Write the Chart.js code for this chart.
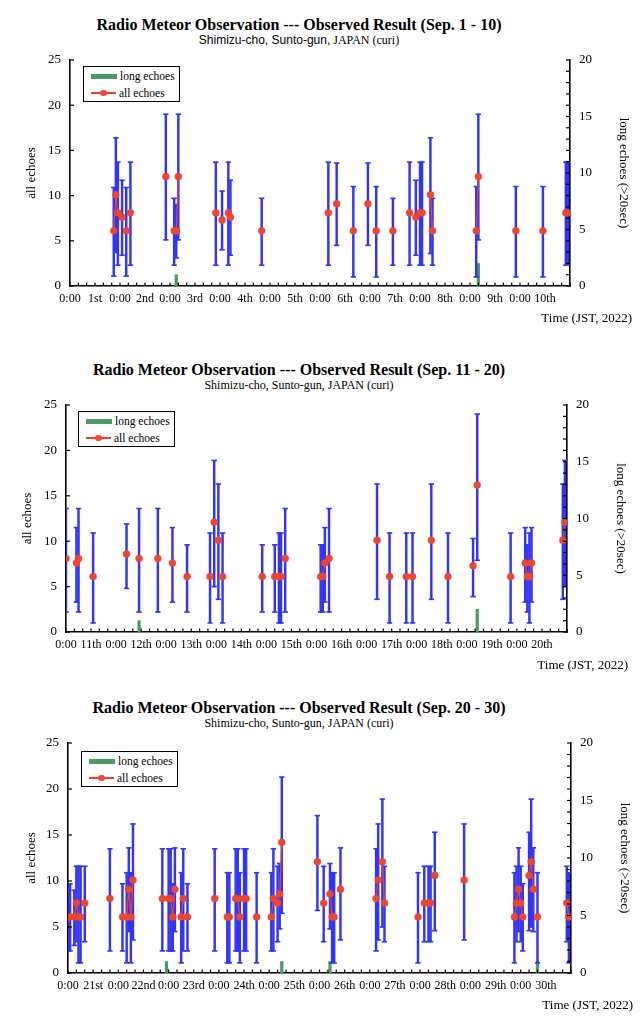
<!DOCTYPE html>
<html>
<head>
<meta charset="utf-8">
<script src="https://cdn.jsdelivr.net/npm/chart.js@4.4.1/dist/chart.umd.min.js"></script>
<style>
  body { margin: 0; width: 644px; height: 1024px; background: #fff; position: relative; overflow: hidden;
         font-family: "Liberation Serif", serif; color: #000; }
  .panel { position: absolute; left: 0; width: 644px; height: 340px; }
  .panel canvas { position: absolute; left: 0; top: 0; }
  .ttl { position: absolute; left: 0; width: 598px; top: 16px; text-align: center; font-weight: bold; font-size: 16px; line-height: 18px; }
  .sub { position: absolute; left: 0; width: 598px; top: 33px; text-align: center; font-size: 12px; line-height: 14px; }
  .sans { font-family: "Liberation Sans", sans-serif; }
  .time { position: absolute; right: 12px; font-size: 13px; line-height: 15px; }
  .legend { position: absolute; width: 97px; height: 36px; border: 1.5px solid #000; box-sizing: border-box; background: #fff; font-size: 11.5px; }
  .legend .row { position: absolute; left: 7px; height: 14px; display: flex; align-items: center; white-space: nowrap; }
  .sw-bar { display: inline-block; width: 26px; height: 5px; background: #4f9a64; margin-right: 3px; }
  .sw-line { display: inline-block; position: relative; width: 25px; height: 1.5px; background: #e8402a; margin-right: 3px; }
  .sw-line i { position: absolute; left: 9px; top: -2.5px; width: 6.5px; height: 6.5px; border-radius: 50%; background: #f04a34; }
</style>
</head>
<body>

<div class="panel" style="top:0px">
  <div class="ttl">Radio Meteor Observation --- Observed Result (Sep. 1 - 10)</div>
  <div class="sub"><span class="sans">Shimizu-cho, Sunto-gun,</span> JAPAN (curi)</div>
  <canvas id="c1" width="644" height="316"></canvas>
  <div class="legend" style="left:83px;top:66px">
    <div class="row" style="top:2px"><span class="sw-bar"></span>long echoes</div>
    <div class="row" style="top:19px"><span class="sw-line"><i></i></span>all echoes</div>
  </div>
  <div class="time" style="top:310px">Time (JST, 2022)</div>
</div>

<div class="panel" style="top:345px">
  <div class="ttl">Radio Meteor Observation --- Observed Result (Sep. 11 - 20)</div>
  <div class="sub">Shimizu-cho, Sunto-gun, JAPAN (curi)</div>
  <canvas id="c2" width="644" height="317"></canvas>
  <div class="legend" style="left:78px;top:66px">
    <div class="row" style="top:2px"><span class="sw-bar"></span>long echoes</div>
    <div class="row" style="top:19px"><span class="sw-line"><i></i></span>all echoes</div>
  </div>
  <div class="time" style="top:312px;right:16px">Time (JST, 2022)</div>
</div>

<div class="panel" style="top:683px">
  <div class="ttl">Radio Meteor Observation --- Observed Result (Sep. 20 - 30)</div>
  <div class="sub">Shimizu-cho, Sunto-gun, JAPAN (curi)</div>
  <canvas id="c3" width="644" height="320"></canvas>
  <div class="legend" style="left:81px;top:68px">
    <div class="row" style="top:2px"><span class="sw-bar"></span>long echoes</div>
    <div class="row" style="top:19px"><span class="sw-line"><i></i></span>all echoes</div>
  </div>
  <div class="time" style="top:314px;right:11px">Time (JST, 2022)</div>
</div>

<script>
// ---- chart 1 : Sep. 1 - 10 (hours counted from Sep. 1 0:00) ----
const dayLabels1 = ['1st', '2nd', '3rd', '4th', '5th', '6th', '7th', '8th', '9th', '10th'];
const allHours1  = [21, 22, 23, 25, 27, 29, 46, 50, 51, 52, 70, 73, 76, 77, 92, 124, 128, 136, 143, 147, 155, 163, 166, 168, 169, 173, 174, 195, 196, 214, 227, 238, 239];
const allValues1 = [6.1, 10.1, 8.1, 7.6, 6.1, 8.1, 12.1, 6.1, 6.1, 12.1, 8.1, 7.3, 8.1, 7.6, 6.1, 8.1, 9.1, 6.1, 9.1, 6.1, 6.1, 8.1, 7.6, 8.1, 8.1, 10.1, 6.1, 6.1, 12.1, 6.1, 6.1, 8.1, 8.1];
const errLow1    = [1.1, 3.7, 2.3, 3.4, 1.1, 2.3, 5.1, 2.3, 3.1, 5.1, 2.3, 4.0, 2.3, 3.4, 2.3, 2.3, 4.5, 1.0, 4.5, 1.0, 2.3, 2.3, 3.4, 2.3, 2.3, 3.6, 2.3, 1.0, 5.1, 1.0, 1.0, 2.3, 2.3];
const errHigh1   = [10.9, 16.4, 13.7, 11.7, 10.9, 13.7, 19.0, 9.7, 9.0, 19.0, 13.7, 10.5, 13.7, 11.7, 9.7, 13.7, 13.6, 11.0, 13.6, 11.0, 9.7, 13.7, 11.7, 13.7, 13.7, 16.4, 9.7, 11.0, 19.0, 11.0, 11.0, 13.7, 13.7];
const longHours1  = [51, 196];
const longValues1 = [1, 2];

// ---- chart 2 : Sep. 11 - 20 ----
const dayLabels2 = ['11th', '12th', '13th', '14th', '15th', '16th', '17th', '18th', '19th', '20th'];
const allHours2  = [0, 5, 6, 13, 29, 35, 44, 51, 58, 69, 71, 73, 75, 94, 100, 102, 103, 105, 122, 123, 124, 126, 149, 155, 163, 166, 175, 183, 195, 197, 213, 220, 221, 222, 223, 238, 239];
const allValues2 = [8.1, 7.6, 8.1, 6.1, 8.6, 8.1, 8.1, 7.6, 6.1, 6.1, 12.1, 10.1, 6.1, 6.1, 6.1, 6.1, 6.1, 8.1, 6.1, 6.1, 7.6, 8.1, 10.1, 6.1, 6.1, 6.1, 10.1, 6.1, 7.3, 16.2, 6.1, 7.6, 6.1, 6.1, 7.6, 10.1, 12.1];
const errLow2    = [2.2, 3.3, 2.2, 1.0, 4.8, 2.2, 2.2, 3.3, 2.2, 1.0, 5.0, 3.6, 1.0, 2.2, 2.2, 1.0, 1.0, 2.2, 2.2, 2.2, 3.3, 2.2, 3.6, 1.0, 1.0, 1.0, 3.6, 1.0, 3.9, 7.9, 1.0, 3.3, 2.2, 1.0, 3.3, 3.6, 5.0];
const errHigh2   = [13.6, 11.5, 13.6, 10.9, 11.9, 13.6, 13.6, 11.5, 9.6, 10.9, 18.9, 16.3, 10.9, 9.6, 9.6, 10.9, 10.9, 13.6, 9.6, 9.6, 11.5, 13.6, 16.3, 10.9, 10.9, 10.9, 16.3, 10.9, 10.3, 24.0, 10.9, 11.5, 9.6, 10.9, 11.5, 16.3, 18.9];
const longHours2  = [35, 197];
const longValues2 = [1, 2];

// ---- chart 3 : Sep. 21 - 30 ----
const dayLabels3 = ['21st', '22nd', '23rd', '24th', '25th', '26th', '27th', '28th', '29th', '30th'];
const allHours3  = [0, 1, 3, 4, 5, 6, 8, 20, 26, 28, 29, 30, 31, 45, 48, 49, 50, 51, 54, 55, 57, 70, 76, 77, 80, 81, 82, 84, 85, 90, 97, 98, 100, 101, 102, 119, 122, 125, 126, 127, 130, 147, 148, 150, 151, 167, 170, 172, 173, 175, 189, 213, 214, 215, 216, 217, 220, 221, 222, 224, 238, 239];
const allValues3 = [6.1, 6.1, 6.1, 7.6, 6.1, 6.1, 7.6, 8.1, 6.1, 6.1, 9.1, 6.1, 10.1, 8.1, 8.1, 8.1, 6.1, 9.1, 6.1, 8.1, 6.1, 8.1, 6.1, 6.1, 8.1, 8.1, 6.1, 8.1, 8.1, 6.1, 6.1, 8.1, 7.6, 8.6, 14.2, 12.1, 7.6, 8.6, 6.1, 6.1, 9.1, 8.1, 10.1, 12.1, 7.6, 6.1, 7.6, 7.6, 7.6, 10.6, 10.1, 6.1, 7.6, 9.1, 7.6, 6.1, 10.6, 12.1, 9.1, 6.1, 7.6, 6.1];
const errLow3    = [2.4, 2.4, 3.0, 3.4, 1.1, 1.1, 3.4, 2.4, 2.4, 1.1, 4.5, 1.1, 3.6, 2.4, 2.4, 2.4, 2.4, 4.5, 1.1, 2.4, 2.4, 2.4, 1.1, 1.1, 2.4, 2.4, 1.1, 2.4, 2.4, 1.1, 2.4, 2.4, 3.4, 4.8, 6.5, 6.8, 3.4, 4.8, 1.1, 1.1, 3.6, 2.4, 3.6, 5.0, 3.4, 1.1, 3.4, 3.4, 3.4, 4.6, 3.6, 1.1, 3.4, 4.5, 3.4, 2.4, 4.6, 5.0, 4.5, 1.1, 3.4, 1.1];
const errHigh3   = [9.7, 9.7, 9.0, 11.6, 11.6, 11.6, 11.6, 13.5, 9.7, 10.9, 13.6, 10.9, 16.2, 13.5, 13.5, 13.5, 9.7, 13.6, 10.9, 13.5, 9.7, 13.5, 10.9, 10.9, 13.5, 13.5, 10.9, 13.5, 13.5, 10.9, 10.9, 13.5, 11.6, 11.9, 21.3, 17.1, 11.6, 11.9, 10.9, 10.9, 13.6, 13.5, 16.2, 18.9, 11.6, 10.9, 11.6, 11.6, 11.6, 15.3, 16.2, 10.9, 11.6, 13.6, 11.6, 9.7, 15.3, 18.9, 13.6, 10.9, 11.6, 10.9];
const longHours3  = [47, 102, 125, 224];
const longValues3 = [1, 1, 1, 1];

const TOTAL_HOURS = 240;
const yTicksLeft  = { min: 0, max: 25, step: 5 };
const yTicksRight = { min: 0, max: 20, step: 1, labelEvery: 5 };

const RED = '#ec4530', BLUE = '#3434f4', GREEN = '#4f9a64';

Chart.defaults.font.family = '"Liberation Serif", serif';
Chart.defaults.font.size = 13;
Chart.defaults.color = '#000';

// short tick marks drawn on the inner side of the frame
const innerTicks = {
  id: 'innerTicks',
  afterDraw(chart) {
    const ctx = chart.ctx, a = chart.chartArea;
    ctx.save();
    ctx.strokeStyle = '#000';
    ctx.lineWidth = 1.2;
    const seg = (x1, y1, x2, y2) => { ctx.beginPath(); ctx.moveTo(x1, y1); ctx.lineTo(x2, y2); ctx.stroke(); };
    const sx = chart.scales.x, sy = chart.scales.y, s2 = chart.scales.y2;
    sx.ticks.forEach((t, i) => { const p = sx.getPixelForTick(i); seg(p, a.bottom, p, a.bottom - 3.5); });
    sy.ticks.forEach((t, i) => { const p = sy.getPixelForTick(i); seg(a.left, p, a.left + 4, p); });
    s2.ticks.forEach((t, i) => { const p = s2.getPixelForTick(i); seg(a.right, p, a.right - 4, p); });
    ctx.restore();
  }
};

function lineData(hours, values) {
  const out = [];
  hours.forEach((h, i) => {
    out.push({ x: h, y: values[i] });
    if (i < hours.length - 1 && hours[i + 1] !== h + 1) out.push({ x: h + 0.5, y: null });
  });
  return out;
}

function makeChart(id, days, hours, values, lows, highs, longH, longV, g) {
  const border = { display: true, color: '#000', width: 1.6 };
  new Chart(document.getElementById(id), {
    type: 'line',
    data: {
      datasets: [
        {
          label: 'all echoes', type: 'line', order: 0,
          data: lineData(hours, values),
          borderColor: RED, borderWidth: 1.2,
          pointRadius: 3.5, pointBackgroundColor: RED,
          pointBorderColor: 'rgba(236,69,48,0.45)', pointBorderWidth: 1,
          spanGaps: false
        },
        {
          label: 'caps', type: 'scatter', order: 1,
          data: hours.map((h, i) => ({ x: h, y: highs[i] })).concat(hours.map((h, i) => ({ x: h, y: lows[i] }))),
          pointStyle: 'line', pointRadius: 2.7, borderColor: BLUE, borderWidth: 1.6, showLine: false
        },
        {
          label: 'range', type: 'bar', order: 2, grouped: false,
          data: hours.map((h, i) => ({ x: h, y: [lows[i], highs[i]] })),
          backgroundColor: BLUE, borderWidth: 0, barThickness: 1.8
        },
        {
          label: 'long echoes', type: 'bar', order: 3, grouped: false, yAxisID: 'y2',
          data: longH.map((h, i) => ({ x: h, y: longV[i] })),
          backgroundColor: GREEN, borderWidth: 0, barThickness: 2.6
        }
      ]
    },
    options: {
      responsive: false,
      animation: false,
      events: [],
      layout: { padding: { left: g.padLeft, right: g.padRight, top: 60, bottom: 0 } },
      plugins: { legend: { display: false }, tooltip: { enabled: false } },
      scales: {
        x: {
          type: 'linear', min: 0, max: TOTAL_HOURS, offset: false,
          grid: { display: false, drawTicks: false, offset: false },
          border: border,
          afterFit: s => { s.height = 30; },
          ticks: {
            stepSize: 4, autoSkip: false, maxRotation: 0, padding: 6, font: { size: 12 },
            callback: v => v % 24 === 0 && v < TOTAL_HOURS ? '0:00' : (v % 24 === 12 ? days[Math.floor(v / 24)] : '')
          }
        },
        y: {
          position: 'left', min: yTicksLeft.min, max: yTicksLeft.max,
          grid: { display: false, drawTicks: false },
          border: border,
          afterFit: s => { s.width = g.leftWidth; },
          ticks: { stepSize: yTicksLeft.step, padding: 9 },
          title: { display: true, text: 'all echoes', font: { size: 13 } }
        },
        y2: {
          position: 'right', min: yTicksRight.min, max: yTicksRight.max,
          grid: { display: false, drawTicks: false },
          border: border,
          afterFit: s => { s.width = g.rightWidth; },
          ticks: {
            stepSize: yTicksRight.step, autoSkip: false, padding: 9,
            callback: v => v % yTicksRight.labelEvery === 0 ? String(v) : ''
          },
          title: { display: true, text: 'long echoes (>20sec)', font: { size: 13 } }
        }
      }
    },
    plugins: [innerTicks]
  });
}

makeChart('c1', dayLabels1, allHours1, allValues1, errLow1, errHigh1, longHours1, longValues1,
  { padLeft: 20, leftWidth: 50, rightWidth: 65, padRight: 9 });
makeChart('c2', dayLabels2, allHours2, allValues2, errLow2, errHigh2, longHours2, longValues2,
  { padLeft: 16, leftWidth: 50, rightWidth: 65, padRight: 12 });
makeChart('c3', dayLabels3, allHours3, allValues3, errLow3, errHigh3, longHours3, longValues3,
  { padLeft: 20, leftWidth: 48, rightWidth: 65, padRight: 8 });
</script>
</body>
</html>
